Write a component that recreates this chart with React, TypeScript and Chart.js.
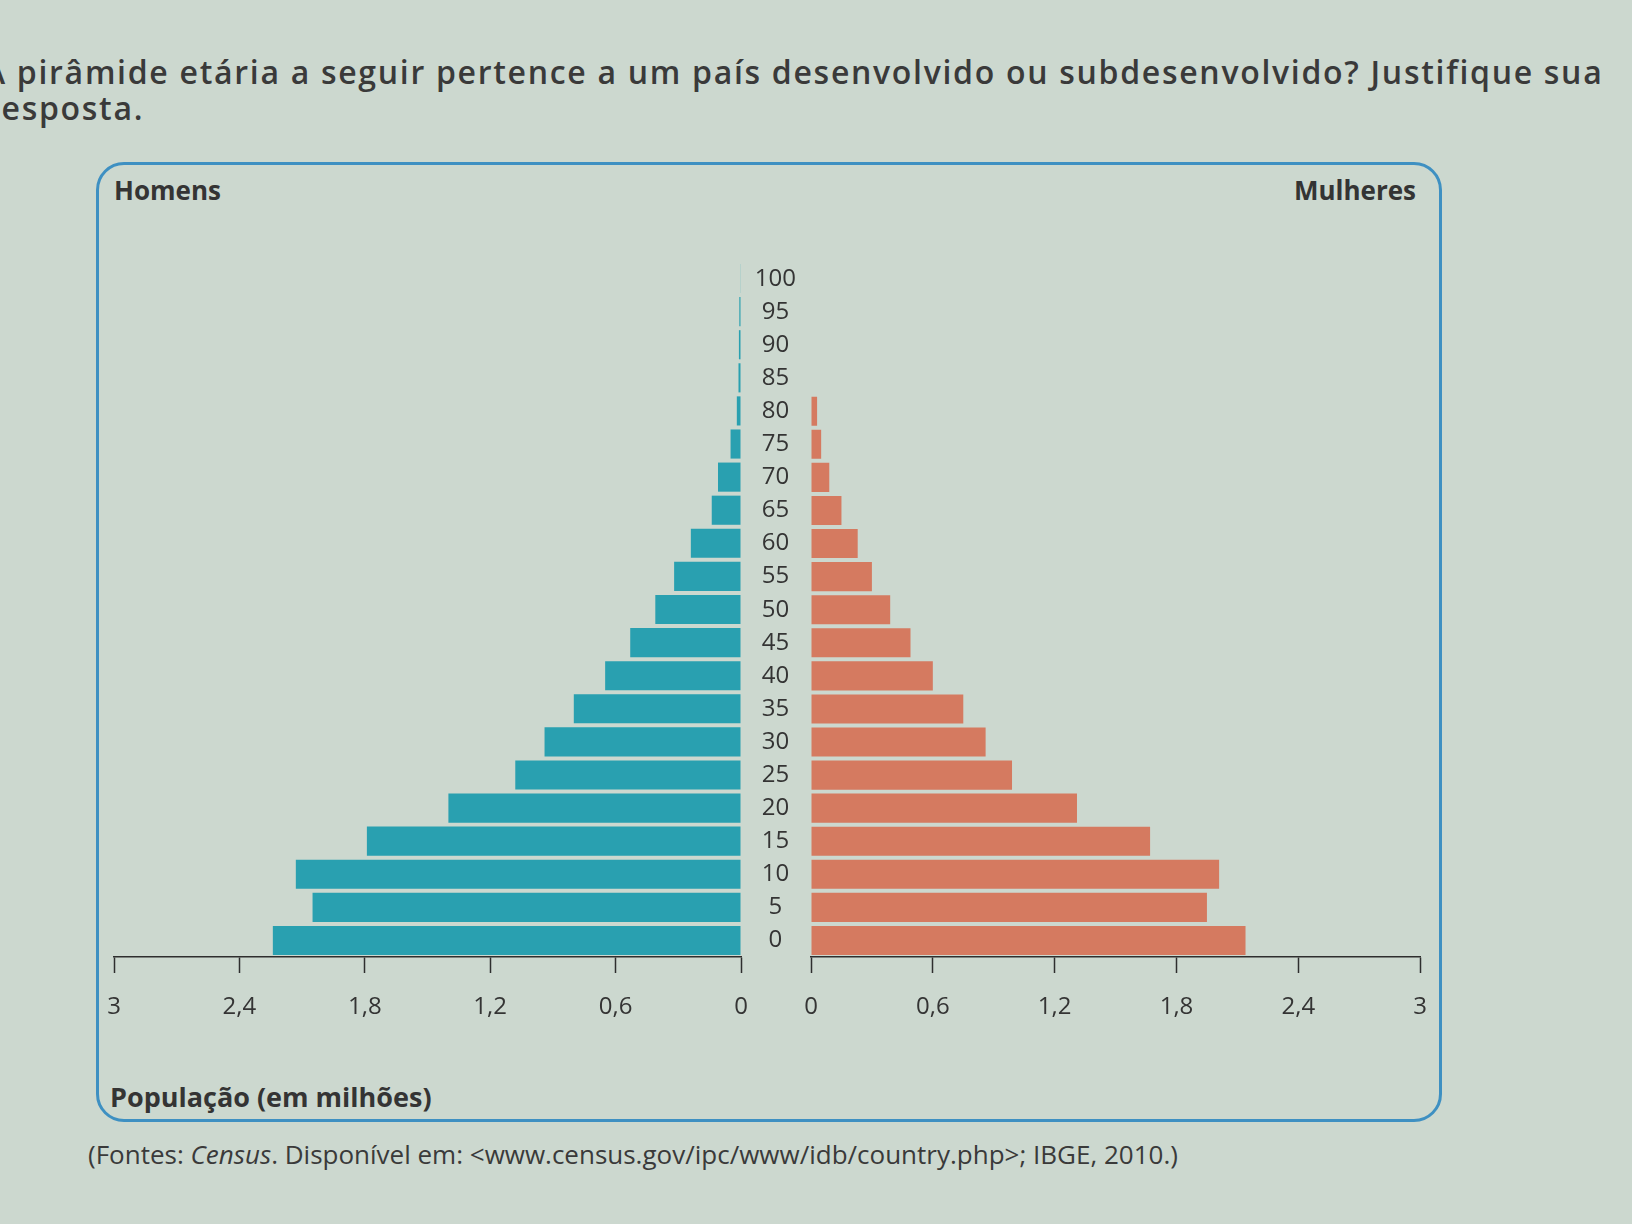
import React, { useEffect, useRef } from 'react';
import { Chart, registerables } from 'chart.js';

Chart.register(...registerables);

// Age groups (years), bottom to top
const ageGroups = ['0', '5', '10', '15', '20', '25', '30', '35', '40', '45', '50', '55', '60', '65', '70', '75', '80', '85', '90', '95', '100'];
// Population in millions
const menValues = [2.24, 2.05, 2.13, 1.79, 1.40, 1.08, 0.94, 0.80, 0.65, 0.53, 0.41, 0.32, 0.24, 0.14, 0.11, 0.05, 0.02, 0.012, 0.01, 0.008, 0.003];
const womenValues = [2.14, 1.95, 2.01, 1.67, 1.31, 0.99, 0.86, 0.75, 0.60, 0.49, 0.39, 0.30, 0.23, 0.15, 0.09, 0.05, 0.03, 0, 0, 0, 0];
const xTickValues = [0, 0.6, 1.2, 1.8, 2.4, 3];

const menColor = '#29a0b0';
const womenColor = '#d57a60';
const textColor = '#343434';
const fontFamily = "'Open Sans', 'Noto Sans', sans-serif";

const fmt = (v: number) => String(Math.round(v * 10) / 10).replace('.', ',');

function makeXScale(reverse: boolean) {
  return {
    type: 'linear' as const,
    reverse,
    min: 0,
    max: 3,
    afterBuildTicks: (scale: any) => {
      scale.ticks = xTickValues.map((v) => ({ value: v }));
    },
    afterFit: (scale: any) => {
      scale.height = 65;
    },
    ticks: {
      color: textColor,
      font: { family: fontFamily, size: 24 },
      padding: 20,
      maxRotation: 0,
      callback: (v: any) => fmt(Number(v)),
    },
    grid: {
      drawOnChartArea: false,
      drawTicks: true,
      tickLength: 16,
      tickColor: '#2e2e2e',
      tickWidth: 1.5,
    },
    border: { display: true, color: '#2e2e2e', width: 1.5 },
  };
}

function PyramidHalf(props: { side: 'left' | 'right'; style: React.CSSProperties; width: number; height: number }) {
  const ref = useRef<HTMLCanvasElement | null>(null);
  useEffect(() => {
    if (!ref.current) return;
    const isLeft = props.side === 'left';
    const chart = new Chart(ref.current, {
      type: 'bar',
      data: {
        labels: ageGroups,
        datasets: [
          {
            label: isLeft ? 'Homens' : 'Mulheres',
            data: isLeft ? menValues : womenValues,
            backgroundColor: isLeft ? menColor : womenColor,
            borderWidth: 0,
            categoryPercentage: 1,
            barPercentage: 0.88,
          },
        ],
      },
      options: {
        indexAxis: 'y',
        responsive: false,
        animation: false,
        layout: { padding: isLeft ? { left: 20, right: 20, top: 0, bottom: 0 } : { left: 0, right: 20, top: 0, bottom: 0 } },
        plugins: { legend: { display: false }, tooltip: { enabled: false } },
        scales: {
          x: makeXScale(isLeft),
          y: isLeft
            ? { reverse: true, display: false }
            : {
                reverse: true,
                position: 'left',
                afterFit: (scale: any) => {
                  scale.width = 70;
                },
                grid: { display: false },
                border: { display: false },
                ticks: {
                  color: textColor,
                  crossAlign: 'center',
                  padding: 7,
                  font: { family: fontFamily, size: 24 },
                },
              },
        },
      } as any,
    });
    return () => chart.destroy();
  }, []);
  return <canvas ref={ref} width={props.width} height={props.height} style={props.style} />;
}

export default function App() {
  useEffect(() => {
    document.body.style.margin = '0';
  }, []);
  const abs: React.CSSProperties = { position: 'absolute' };
  return (
    <div
      style={{
        position: 'relative',
        width: 1632,
        height: 1224,
        overflow: 'hidden',
        background: '#ccd8cf',
        fontFamily,
        color: textColor,
      }}
    >
      <div style={{ ...abs, left: -16, top: 50, fontSize: 32, fontWeight: 600, whiteSpace: 'nowrap', letterSpacing: 1.7, color: '#3a3a3a' }}>
        A pirâmide etária a seguir pertence a um país desenvolvido ou subdesenvolvido? Justifique sua
      </div>
      <div style={{ ...abs, left: -14, top: 86, fontSize: 32, fontWeight: 600, whiteSpace: 'nowrap', letterSpacing: 1.7, color: '#3a3a3a' }}>
        resposta.
      </div>

      <div
        style={{
          ...abs,
          left: 96,
          top: 162,
          width: 1346,
          height: 960,
          border: '3px solid #3e90c2',
          borderRadius: 28,
          boxSizing: 'border-box',
        }}
      />

      <div style={{ ...abs, left: 114, top: 172, fontSize: 26, fontWeight: 700 }}>Homens</div>
      <div style={{ ...abs, right: 1632 - 1416, top: 172, fontSize: 26, fontWeight: 700 }}>Mulheres</div>

      <PyramidHalf side="left" width={667} height={760} style={{ ...abs, left: 94, top: 262 }} />
      <PyramidHalf side="right" width={706} height={781} style={{ ...abs, left: 741, top: 241 }} />

      <div style={{ ...abs, left: 110, top: 1078, fontSize: 27, fontWeight: 700 }}>População (em milhões)</div>

      <div style={{ ...abs, left: 88, top: 1136, fontSize: 26, whiteSpace: 'nowrap', color: '#3a3a3a' }}>
        (Fontes: <i>Census</i>. Disponível em: &lt;www.census.gov/ipc/www/idb/country.php&gt;; IBGE, 2010.)
      </div>
    </div>
  );
}
